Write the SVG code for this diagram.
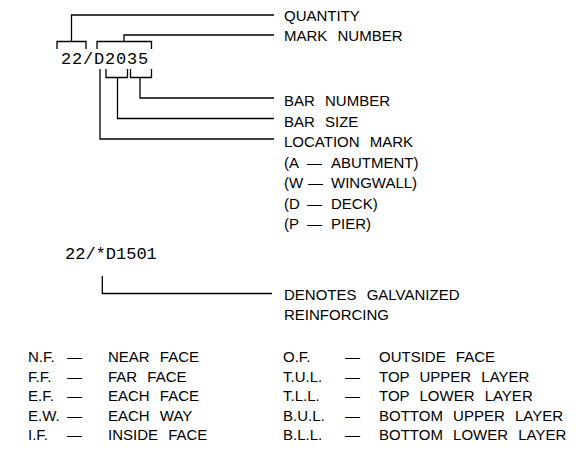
<svg xmlns="http://www.w3.org/2000/svg" width="585" height="451" viewBox="0 0 585 451">
<style>
.t{font-family:"Liberation Sans",Arial,sans-serif;font-size:15px;fill:#000;word-spacing:6px}
.m{font-family:"Liberation Mono","Courier New",monospace;font-size:17px;fill:#000}
.c{fill:none;stroke:#000;stroke-width:1.3}
</style>
<rect width="585" height="451" fill="#fff"/>
<g id="connectors" class="c">
<path d="M57,49V41.5H86V49M71.5,41.5V15H274"/>
<path d="M97,49V41.5H151.5V49M124,41.5V35H274"/>
<path d="M106,69V77.5H127.5V69M117.5,77.5V118.5H274"/>
<path d="M130.5,69V77.5H151.5V69M140,77.5V98H274"/>
<path d="M100,69V139H274"/>
<path d="M102.3,276V293.5H272"/>
</g>
<g id="mark1"><text class="m" x="61" y="64" letter-spacing="0.8">22/D2035</text></g>
<g id="quantity"><text class="t" x="284" y="21">QUANTITY</text></g>
<g id="mark-number"><text class="t" x="284" y="41">MARK NUMBER</text></g>
<g id="bar-number"><text class="t" x="284" y="106">BAR NUMBER</text></g>
<g id="bar-size"><text class="t" x="284" y="126.5">BAR SIZE</text></g>
<g id="location-mark">
<text class="t" x="284" y="147">LOCATION MARK</text>
<text class="t" y="167.5"><tspan x="284">(A</tspan><tspan x="307">—</tspan><tspan x="331">ABUTMENT)</tspan></text>
<text class="t" y="188"><tspan x="284">(W</tspan><tspan x="308">—</tspan><tspan x="331">WINGWALL)</tspan></text>
<text class="t" y="208.5"><tspan x="284">(D</tspan><tspan x="307">—</tspan><tspan x="331">DECK)</tspan></text>
<text class="t" y="229"><tspan x="284">(P</tspan><tspan x="307">—</tspan><tspan x="331">PIER)</tspan></text>
</g>
<g id="mark2"><text class="m" x="65" y="259">22/*D1501</text></g>
<g id="galvanized">
<text class="t" x="284" y="300">DENOTES GALVANIZED</text>
<text class="t" x="284" y="320">REINFORCING</text>
</g>
<g id="abbrev-left">
<text class="t" y="362"><tspan x="28">N.F.</tspan><tspan x="67">—</tspan><tspan x="108">NEAR FACE</tspan></text>
<text class="t" y="381.5"><tspan x="28">F.F.</tspan><tspan x="67">—</tspan><tspan x="108">FAR FACE</tspan></text>
<text class="t" y="401"><tspan x="28">E.F.</tspan><tspan x="67">—</tspan><tspan x="108">EACH FACE</tspan></text>
<text class="t" y="420.5"><tspan x="28">E.W.</tspan><tspan x="67">—</tspan><tspan x="108">EACH WAY</tspan></text>
<text class="t" y="440"><tspan x="28">I.F.</tspan><tspan x="67">—</tspan><tspan x="108">INSIDE FACE</tspan></text>
</g>
<g id="abbrev-right">
<text class="t" y="362"><tspan x="283">O.F.</tspan><tspan x="345">—</tspan><tspan x="379">OUTSIDE FACE</tspan></text>
<text class="t" y="381.5"><tspan x="283">T.U.L.</tspan><tspan x="345">—</tspan><tspan x="379">TOP UPPER LAYER</tspan></text>
<text class="t" y="401"><tspan x="283">T.L.L.</tspan><tspan x="345">—</tspan><tspan x="379">TOP LOWER LAYER</tspan></text>
<text class="t" y="420.5"><tspan x="283">B.U.L.</tspan><tspan x="345">—</tspan><tspan x="379">BOTTOM UPPER LAYER</tspan></text>
<text class="t" y="440"><tspan x="283">B.L.L.</tspan><tspan x="345">—</tspan><tspan x="379">BOTTOM LOWER LAYER</tspan></text>
</g>
</svg>
